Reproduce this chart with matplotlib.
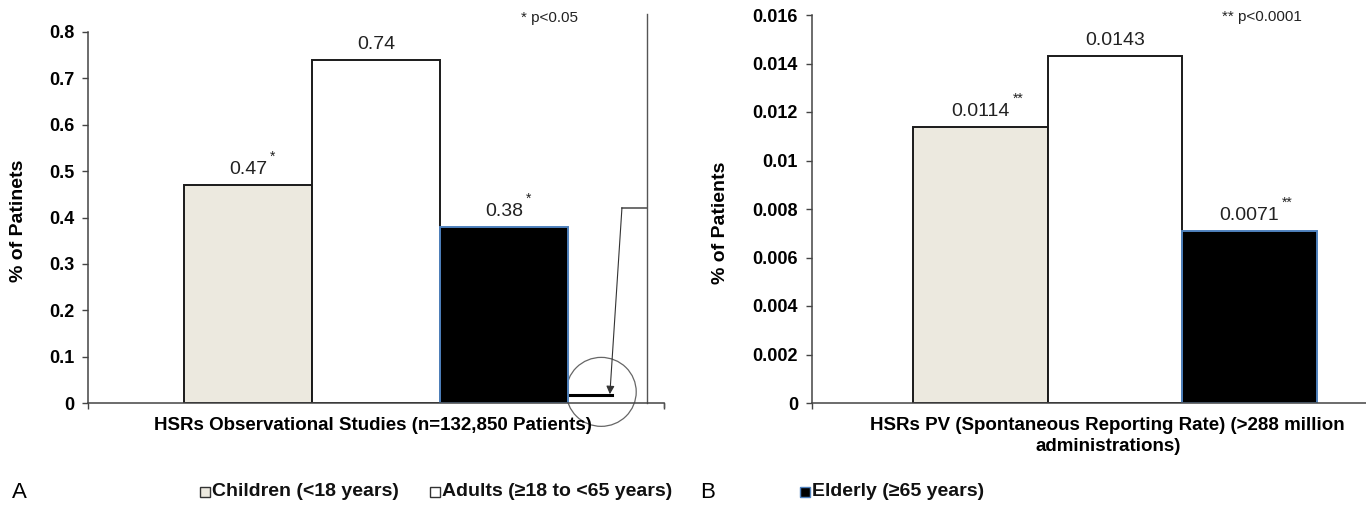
import matplotlib.pyplot as plt
from matplotlib.patches import Rectangle, Ellipse

# --- DATA ---
groups = ["Children (<18 years)", "Adults (\u226518 to <65 years)", "Elderly (\u226565 years)"]
obs_values = [0.47, 0.74, 0.38]
obs_labels = ["0.47", "0.74", "0.38"]
obs_stars = ["*", "", "*"]
pv_values = [0.0114, 0.0143, 0.0071]
pv_labels = ["0.0114", "0.0143", "0.0071"]
pv_stars = ["**", "", "**"]
obs_yticks = [0, 0.1, 0.2, 0.3, 0.4, 0.5, 0.6, 0.7, 0.8]
obs_yticklabels = ["0", "0.1", "0.2", "0.3", "0.4", "0.5", "0.6", "0.7", "0.8"]
pv_yticks = [0, 0.002, 0.004, 0.006, 0.008, 0.01, 0.012, 0.014, 0.016]
pv_yticklabels = ["0", "0.002", "0.004", "0.006", "0.008", "0.01", "0.012", "0.014", "0.016"]

# --- STYLE ---
fills = ["#ECE9DF", "#FFFFFF", "#000000"]
edges = ["#1a1a1a", "#1a1a1a", "#4F81BD"]
plt.rcParams['font.family'] = ["Liberation Sans", "DejaVu Sans"]

W, H = 1366, 509
fig = plt.figure(figsize=(W / 100, H / 100), dpi=100)

ax1 = fig.add_axes([88 / W, 1 - 403 / H, 576 / W, (403 - 32) / H])
ax2 = fig.add_axes([812 / W, 1 - 403 / H, 606 / W, (403 - 15) / H])

bar_w = 0.222
offsets = [-bar_w, 0, bar_w]
VAL_FS = 14


def label_halfwidth_pt(s, fs):
    # rough half width of a numeric label in points
    n_dot = s.count(".")
    return fs * ((len(s) - n_dot) * 0.556 + n_dot * 0.278) / 2


def draw_panel(ax, values, labels, stars, yticks, yticklabels, ymax, ylabel, xlabel):
    for i, v in enumerate(values):
        ax.bar(offsets[i], v, width=bar_w, color=fills[i], edgecolor=edges[i],
               linewidth=1.4, zorder=2)
        ax.annotate(labels[i], xy=(offsets[i], v), xytext=(0, 5), textcoords="offset points",
                    ha="center", va="bottom", fontsize=VAL_FS, color="#222222")
        if stars[i]:
            ax.annotate(stars[i], xy=(offsets[i], v),
                        xytext=(label_halfwidth_pt(labels[i], VAL_FS) + 2, 15),
                        textcoords="offset points", ha="left", va="bottom",
                        fontsize=10, color="#222222")
    ax.set_xlim(-0.5, 0.5)
    ax.set_ylim(0, ymax)
    ax.set_yticks(yticks)
    ax.set_yticklabels(yticklabels, fontsize=13, fontweight="bold")
    ax.set_xticks([-0.5, 0.5])
    ax.set_xticklabels(["", ""])
    ax.tick_params(axis="both", direction="out", length=4, width=1, color="#444444", pad=6)
    for s in ["top", "right"]:
        ax.spines[s].set_visible(False)
    for s in ["left", "bottom"]:
        ax.spines[s].set_color("#444444")
        ax.spines[s].set_linewidth(1.1)
    ax.set_ylabel(ylabel, fontsize=14, fontweight="bold")
    ax.set_xlabel(xlabel, fontsize=13.5, fontweight="bold", labelpad=5, linespacing=1.25)


draw_panel(ax1, obs_values, obs_labels, obs_stars, obs_yticks, obs_yticklabels, 0.8,
           "% of Patinets", "HSRs Observational Studies (n=132,850 Patients)")
ax1.yaxis.set_label_coords(-0.106, 0.49)
ax1.xaxis.set_label_coords(0.495, -0.037)
draw_panel(ax2, pv_values, pv_labels, pv_stars, pv_yticks, pv_yticklabels, 0.016,
           "% of Patients",
           "HSRs PV (Spontaneous Reporting Rate) (>288 million\nadministrations)")
ax2.yaxis.set_label_coords(-0.137, 0.464)
ax2.xaxis.set_label_coords(0.488, -0.037)

# significance notes
ax1.text(0.252, 0.83, "* p<0.05", fontsize=11, color="#222222",
         ha="left", va="center", clip_on=False)
ax2.text(0.177, 0.0159, "** p<0.0001", fontsize=11, color="#222222",
         ha="left", va="center", clip_on=False)

# callout decoration on panel A
grey = "#555555"
ax1.plot([0.470, 0.470], [0, 0.838], color=grey, lw=1, clip_on=False)
ax1.plot([0.427, 0.470], [0.421, 0.421], color=grey, lw=1.2, clip_on=False)
ax1.annotate("", xy=(0.406, 0.019), xytext=(0.427, 0.421),
             arrowprops=dict(arrowstyle="-|>", color="#333333", lw=0.8,
                             mutation_scale=12, shrinkA=0, shrinkB=0),
             annotation_clip=False)
ax1.plot([0.337, 0.410], [0.017, 0.017], color="black", lw=2.2, clip_on=False)
ax1.add_patch(Ellipse((0.391, 0.024), 70 / 576, 69 / 464, fill=False,
                      edgecolor="#666666", lw=0.9, clip_on=False))
ax1.plot([0.5, 0.5], [0, -0.008], color=grey, lw=1, clip_on=False)

# panel letters and legend
fig.text(12 / W, 1 - 492 / H, "A", fontsize=16, va="center")
fig.text(700 / W, 1 - 492 / H, "B", fontsize=16, va="center")

legend_x = [200, 430, 800]
for i, name in enumerate(groups):
    x0 = legend_x[i]
    fig.add_artist(Rectangle((x0 / W, 1 - 497 / H), 10 / W, 10 / H, transform=fig.transFigure,
                             facecolor=fills[i], edgecolor="#333333" if i < 2 else edges[i],
                             lw=1))
    fig.text((x0 + 12) / W, 1 - 491 / H, name, fontsize=14, fontweight="bold",
             va="center", color="#111111")

fig.savefig("out.png", dpi=100)
